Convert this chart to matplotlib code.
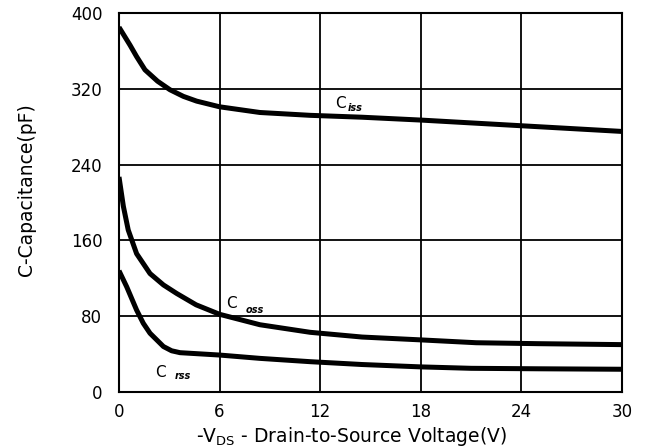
import matplotlib
matplotlib.use("Agg")
import matplotlib.pyplot as plt

# values (V, pF)
ciss_v = [0, 0.66, 1.05, 1.55, 2.3, 3.04, 3.84, 4.63, 6, 8.4, 11.4, 14.5, 18, 21, 24, 27, 30]
ciss = [385, 366, 354, 340, 328, 319, 312, 307, 301, 295, 292, 290, 287, 284, 281, 278, 275]

coss_v = [0, 0.26, 0.55, 1.05, 1.85, 2.65, 3.44, 4.6, 6, 8.4, 11.4, 14.5, 18, 21.3, 25, 30]
coss = [227, 196, 171, 146, 125, 113, 104, 92, 82, 71, 63, 58, 55, 52, 51, 50]

crss_v = [0, 0.46, 1.05, 1.45, 1.85, 2.65, 3.14, 3.64, 6, 8.4, 11.4, 14.5, 18, 21, 25, 30]
crss = [128, 111, 86.5, 72.5, 62, 48, 43.5, 41.5, 39, 35.5, 32, 29, 26.5, 25, 24.5, 24]

x_ticks = [0, 6, 12, 18, 24, 30]
y_ticks = [0, 80, 160, 240, 320, 400]

labels = [
    ("C", "iss", 13.2, 305, 14.1, 300),
    ("C", "oss", 6.7, 93, 8.1, 87),
    ("C", "rss", 2.45, 21, 3.8, 17),
]

fig = plt.figure(figsize=(6.57, 4.47), dpi=100)
ax = fig.add_axes([119 / 657, 55 / 447, 503 / 657, 379 / 447])

for xs, ys in ((ciss_v, ciss), (coss_v, coss), (crss_v, crss)):
    ax.plot(xs, ys, color="black", linewidth=3.6, solid_joinstyle="round",
            solid_capstyle="butt")

for big, sub, x0, y0, x1, y1 in labels:
    ax.text(x0, y0, big, fontsize=11, ha="center", va="center")
    ax.text(x1, y1, sub, fontsize=7, ha="center", va="center", style="italic",
            fontweight="bold")

ax.set_xlim(0, 30)
ax.set_ylim(0, 400)
ax.set_xticks(x_ticks)
ax.set_yticks(y_ticks)
ax.tick_params(length=0, labelsize=12)
ax.tick_params(axis="y", pad=12)
ax.tick_params(axis="x", pad=8)
ax.grid(True, color="black", linewidth=1.3)
for spine in ax.spines.values():
    spine.set_linewidth(1.5)

fig.text(351 / 657, 1 - 436 / 447, r"-V$_{\rm DS}$ - Drain-to-Source Voltage(V)",
         fontsize=13.5, ha="center", va="center")
fig.text(27 / 657, 1 - 190 / 447, "C-Capacitance(pF)", fontsize=13.5,
         rotation=90, ha="center", va="center")

fig.savefig("out.png", dpi=100)
